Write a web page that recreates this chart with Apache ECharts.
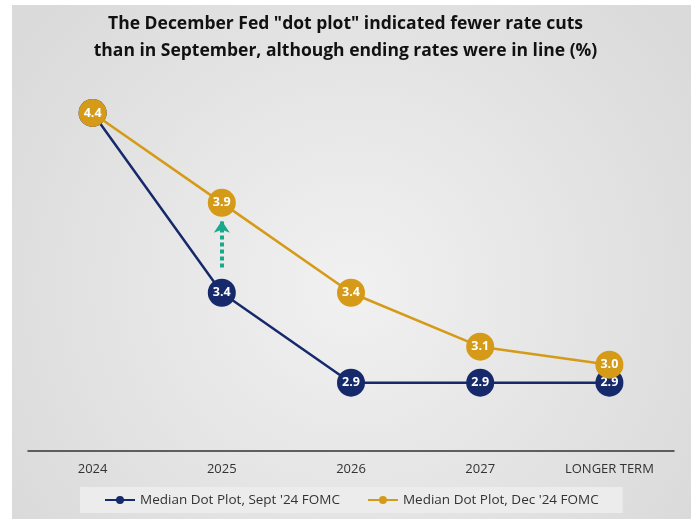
<!doctype html>
<html>
<head>
    <meta charset="utf-8">
    <title>Fed dot plot</title>
    <script src="https://cdn.jsdelivr.net/npm/echarts@6/dist/echarts.min.js"></script>
    <style>
        body { margin: 0; background: #fff; }
        #main { width: 691px; height: 519px; }
    </style>
</head>
<body>
    <div id="main"></div>
<script type="text/javascript">
    // data
    var years = ['2024', '2025', '2026', '2027', 'LONGER TERM'];
    var septDots = [4.4, 3.4, 2.9, 2.9, 2.9];   // Median Dot Plot, Sept '24 FOMC
    var decDots = [4.4, 3.9, 3.4, 3.1, 3.0];    // Median Dot Plot, Dec '24 FOMC
    var arrowRange = [3.54, 3.80];             // green dotted arrow at 2025

    var navy = '#16296b';
    var gold = '#d59a17';

    var myChart = echarts.init(document.getElementById('main'));

    function dotLabel(p) { return p.value.toFixed(1); }

    var option = {
        backgroundColor: '#fff',
        textStyle: { fontFamily: 'Open Sans' },
        graphic: [{
            type: 'rect',
            z: -10,
            shape: { x: 12, y: 5, width: 679, height: 514 },
            style: {
                fill: {
                    type: 'radial', x: 0.5, y: 0.55, r: 0.8,
                    colorStops: [
                        { offset: 0, color: '#f1f1f1' },
                        { offset: 1, color: '#dadada' }
                    ]
                }
            }
        }],
        title: {
            text: 'The December Fed "dot plot" indicated fewer rate cuts\nthan in September, although ending rates were in line (%)',
            left: 'center',
            top: 6,
            textStyle: {
                fontFamily: 'Open Sans',
                fontSize: 17.5,
                fontWeight: 'bold',
                color: '#111',
                lineHeight: 27
            }
        },
        legend: {
            bottom: 6,
            left: 80,
            backgroundColor: '#ececec',
            padding: [6, 24],
            itemGap: 27,
            itemWidth: 30,
            itemHeight: 10,
            textStyle: { fontSize: 13.5, color: '#333' },
            data: ["Median Dot Plot, Sept '24 FOMC", "Median Dot Plot, Dec '24 FOMC"]
        },
        grid: { left: 28, right: 17, top: 77, bottom: 68 },
        xAxis: {
            type: 'category',
            data: years,
            axisLine: { lineStyle: { color: '#333', width: 1.5 } },
            axisTick: { show: false },
            axisLabel: { color: '#333', fontSize: 13, margin: 12 }
        },
        yAxis: {
            type: 'value',
            min: 2.52,
            max: 4.6,
            show: false
        },
        series: [
            {
                name: "Median Dot Plot, Sept '24 FOMC",
                type: 'line',
                data: septDots,
                color: navy,
                symbol: 'circle',
                symbolSize: 28,
                itemStyle: { borderWidth: 0 },
                lineStyle: { width: 2.5 },
                label: {
                    show: true, position: 'inside', color: '#fff',
                    fontWeight: 'bold', fontSize: 12.5,
                    formatter: dotLabel
                },
                z: 2
            },
            {
                name: "Median Dot Plot, Dec '24 FOMC",
                type: 'line',
                data: decDots,
                color: gold,
                symbol: 'circle',
                symbolSize: 28,
                itemStyle: { borderWidth: 0 },
                lineStyle: { width: 2.5 },
                label: {
                    show: true, position: 'inside', color: '#fff',
                    fontWeight: 'bold', fontSize: 12.5,
                    formatter: dotLabel
                },
                markLine: {
                    silent: true,
                    symbol: ['none', 'arrow'],
                    symbolSize: [12, 12],
                    label: { show: false },
                    lineStyle: { color: '#17a98a', width: 4, type: [4, 3] },
                    data: [[
                        { coord: [years[1], arrowRange[0]] },
                        { coord: [years[1], arrowRange[1]] }
                    ]]
                },
                z: 3
            }
        ]
    };

    myChart.setOption(option);
</script>
</body>
</html>
